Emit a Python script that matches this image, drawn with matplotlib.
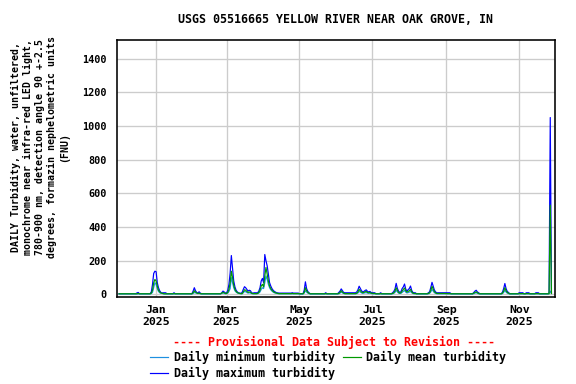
import pandas as pd
import numpy as np
import matplotlib
matplotlib.use("Agg")
import matplotlib.pyplot as plt
import matplotlib.dates as mdates

plt.rcParams['font.family'] = ['DejaVu Sans Mono']
plt.rcParams['font.weight'] = 'bold'

# Daily values (FNU), one list per month (Dec 2024 - Nov 2025)
mean_dec = [4, 4, 4, 4, 4, 4, 4, 4, 4, 4, 4, 4, 4, 4, 4, 4, 6, 4, 4, 4, 4, 4, 4, 4, 4, 4, 4, 8, 25, 70, 89]
max_dec = [5, 5, 5, 5, 5, 5, 5, 5, 5, 5, 5, 5, 5, 5, 5, 9, 12, 5, 5, 5, 5, 5, 5, 5, 5, 5, 5, 15, 60, 125, 138]
min_dec = [3, 3, 3, 3, 3, 3, 3, 3, 3, 3, 3, 3, 3, 3, 3, 3, 4, 3, 3, 3, 3, 3, 3, 3, 3, 3, 3, 5, 12, 40, 70]

mean_jan = [80, 50, 25, 15, 9, 7, 5, 4, 4, 4, 4, 4, 4, 4, 4, 5, 4, 4, 4, 4, 4, 4, 4, 4, 4, 4, 4, 4, 4, 4, 4]
max_jan = [135, 70, 40, 22, 12, 9, 10, 10, 10, 5, 5, 5, 5, 5, 5, 10, 5, 5, 5, 5, 5, 5, 5, 5, 5, 5, 5, 5, 5, 5, 5]
min_jan = [60, 35, 18, 10, 7, 6, 4, 3, 3, 3, 3, 3, 3, 3, 3, 4, 3, 3, 3, 3, 3, 3, 3, 3, 3, 3, 3, 3, 3, 3, 3]

mean_feb = [10, 22, 14, 9, 6, 8, 5, 4, 4, 4, 4, 4, 4, 4, 4, 4, 4, 4, 4, 4, 4, 4, 4, 4, 8, 12, 10, 6]
max_feb = [20, 40, 22, 12, 9, 16, 8, 5, 5, 5, 5, 5, 5, 5, 5, 5, 5, 5, 5, 5, 5, 5, 5, 5, 10, 20, 15, 9]
min_feb = [6, 12, 9, 7, 5, 6, 4, 3, 3, 3, 3, 3, 3, 3, 3, 3, 3, 3, 3, 3, 3, 3, 3, 3, 6, 9, 7, 4]

mean_mar = [6, 12, 30, 70, 138, 100, 55, 30, 18, 11, 8, 6, 5, 5, 15, 28, 25, 18, 12, 15, 13, 7, 5, 5, 5, 5, 6, 12, 25, 50, 60]
max_mar = [9, 25, 60, 127, 231, 154, 80, 45, 25, 15, 10, 8, 7, 12, 30, 46, 40, 30, 20, 25, 22, 10, 8, 10, 10, 10, 10, 20, 40, 80, 95]
min_mar = [5, 8, 18, 35, 100, 70, 40, 22, 14, 9, 7, 5, 4, 4, 10, 18, 16, 12, 8, 10, 9, 5, 4, 4, 4, 4, 5, 8, 15, 30, 40]

mean_apr = [45, 110, 160, 120, 80, 50, 35, 25, 18, 13, 10, 8, 6, 5, 5, 5, 5, 5, 5, 5, 5, 5, 5, 5, 6, 5, 5, 5, 5, 5]
max_apr = [70, 237, 200, 170, 120, 70, 50, 35, 25, 18, 14, 10, 9, 8, 8, 8, 8, 8, 8, 8, 8, 8, 8, 8, 10, 8, 8, 8, 8, 8]
min_apr = [35, 70, 110, 90, 60, 40, 28, 20, 14, 10, 8, 6, 5, 4, 4, 4, 4, 4, 4, 4, 4, 4, 4, 4, 4, 4, 4, 4, 4, 4]

mean_may = [4, 4, 4, 4, 12, 40, 22, 12, 7, 4, 4, 4, 4, 4, 4, 4, 4, 4, 4, 4, 4, 4, 5, 4, 4, 4, 4, 4, 4, 4, 4]
max_may = [5, 5, 5, 5, 25, 75, 35, 18, 10, 5, 5, 5, 5, 5, 5, 5, 5, 5, 5, 5, 5, 5, 10, 5, 5, 5, 5, 5, 5, 5, 5]
min_may = [3, 3, 3, 3, 8, 22, 14, 8, 5, 3, 3, 3, 3, 3, 3, 3, 3, 3, 3, 3, 3, 3, 4, 3, 3, 3, 3, 3, 3, 3, 3]

mean_jun = [4, 4, 6, 12, 22, 14, 8, 5, 5, 5, 5, 5, 5, 5, 5, 5, 5, 8, 15, 30, 22, 14, 10, 12, 16, 18, 12, 10, 12, 8]
max_jun = [5, 5, 12, 20, 33, 22, 12, 10, 10, 10, 10, 10, 10, 10, 10, 10, 10, 15, 28, 49, 35, 22, 15, 18, 24, 27, 18, 15, 18, 12]
min_jun = [3, 3, 4, 8, 14, 9, 6, 4, 4, 4, 4, 4, 4, 4, 4, 4, 4, 5, 9, 18, 14, 9, 7, 8, 10, 11, 8, 7, 8, 6]

mean_jul = [6, 6, 6, 4, 4, 4, 4, 5, 4, 4, 4, 4, 4, 4, 4, 4, 4, 6, 10, 20, 40, 24, 12, 8, 10, 20, 30, 38, 22, 14, 18]
max_jul = [10, 10, 10, 5, 5, 5, 5, 10, 5, 5, 5, 5, 5, 5, 5, 5, 5, 10, 18, 32, 66, 36, 20, 12, 16, 35, 45, 62, 32, 20, 28]
min_jul = [4, 4, 4, 3, 3, 3, 3, 4, 3, 3, 3, 3, 3, 3, 3, 3, 3, 4, 7, 12, 25, 15, 8, 6, 7, 12, 18, 24, 14, 9, 11]

mean_aug = [22, 30, 16, 8, 6, 6, 4, 4, 4, 4, 4, 4, 4, 4, 4, 4, 6, 10, 25, 48, 32, 16, 10, 6, 6, 6, 6, 6, 6, 6, 6]
max_aug = [35, 50, 24, 12, 10, 10, 5, 5, 5, 5, 5, 5, 5, 5, 5, 5, 10, 16, 42, 72, 50, 26, 15, 10, 10, 10, 10, 10, 10, 10, 10]
min_aug = [14, 18, 10, 6, 4, 4, 3, 3, 3, 3, 3, 3, 3, 3, 3, 3, 4, 7, 15, 30, 20, 10, 7, 4, 4, 4, 4, 4, 4, 4, 4]

mean_sep = [5, 5, 5, 5, 4, 4, 4, 4, 4, 4, 4, 4, 4, 4, 4, 4, 4, 4, 4, 4, 4, 4, 4, 8, 12, 15, 10, 6, 4, 4]
max_sep = [10, 10, 10, 10, 5, 5, 5, 5, 5, 5, 5, 5, 5, 5, 5, 5, 5, 5, 5, 5, 5, 5, 5, 12, 20, 25, 15, 10, 5, 5]
min_sep = [4, 4, 4, 4, 3, 3, 3, 3, 3, 3, 3, 3, 3, 3, 3, 3, 3, 3, 3, 3, 3, 3, 3, 5, 8, 10, 7, 4, 3, 3]

mean_oct = [4, 4, 4, 4, 4, 4, 4, 4, 4, 4, 4, 4, 4, 4, 4, 4, 4, 8, 20, 40, 22, 12, 8, 4, 4, 4, 4, 4, 4, 4, 4]
max_oct = [5, 5, 5, 5, 5, 5, 5, 5, 5, 5, 5, 5, 5, 5, 5, 5, 5, 14, 35, 65, 35, 18, 12, 5, 5, 5, 5, 5, 5, 5, 5]
min_oct = [3, 3, 3, 3, 3, 3, 3, 3, 3, 3, 3, 3, 3, 3, 3, 3, 3, 5, 12, 25, 14, 8, 5, 3, 3, 3, 3, 3, 3, 3, 3]

mean_nov = [5, 5, 5, 5, 4, 4, 5, 5, 5, 4, 4, 4, 4, 4, 5, 5, 5, 4, 4, 4, 4, 4, 4, 4, 4, 4, 530, 6]
max_nov = [10, 10, 10, 10, 5, 5, 10, 10, 10, 5, 5, 5, 5, 5, 10, 10, 10, 5, 5, 5, 5, 5, 5, 5, 5, 8, 1050, 12]
min_nov = [4, 4, 4, 4, 3, 3, 4, 4, 4, 3, 3, 3, 3, 3, 4, 4, 4, 3, 3, 3, 3, 3, 3, 3, 3, 4, 20, 5]

daily_mean = (mean_dec + mean_jan + mean_feb + mean_mar + mean_apr + mean_may
              + mean_jun + mean_jul + mean_aug + mean_sep + mean_oct + mean_nov)
daily_max = (max_dec + max_jan + max_feb + max_mar + max_apr + max_may
             + max_jun + max_jul + max_aug + max_sep + max_oct + max_nov)
daily_min = (min_dec + min_jan + min_feb + min_mar + min_apr + min_may
             + min_jun + min_jul + min_aug + min_sep + min_oct + min_nov)
dates = pd.date_range("2024-12-01", periods=len(daily_mean), freq="D")

fig = plt.figure(figsize=(6, 4), dpi=96)
ax = fig.add_axes([0.2036, 0.2266, 0.7600, 0.6692])

l_max, = ax.plot(dates, daily_max, color="#0000ff", lw=0.9, label="Daily maximum turbidity")
l_min, = ax.plot(dates, daily_min, color="#1e90e0", lw=0.9, label="Daily minimum turbidity")
l_mean, = ax.plot(dates, daily_mean, color="#009900", lw=0.9, label="Daily mean turbidity")

ax.set_xlim(pd.Timestamp("2024-11-29 12:00"), pd.Timestamp("2025-12-01"))
ax.set_ylim(-15, 1510)
ax.set_yticks(range(0, 1401, 200))
ax.xaxis.set_major_locator(mdates.MonthLocator(bymonth=[1, 3, 5, 7, 9, 11]))
ax.xaxis.set_major_formatter(mdates.DateFormatter("%b\n%Y"))
ax.grid(True, color="#cccccc", lw=1)
ax.set_axisbelow(True)
ax.tick_params(length=0, labelsize=8.6, pad=6)
ax.tick_params(axis="y", labelsize=7.6, pad=8)
for s in ax.spines.values():
    s.set_linewidth(1.2)

fig.text(0.583, 0.950, "USGS 05516665 YELLOW RIVER NEAR OAK GROVE, IN",
         ha="center", va="center", fontsize=8.7)
fig.text(0.069, 0.617,
         "DAILY Turbidity, water, unfiltered,\nmonochrome near infra-red LED light,\n"
         "780-900 nm, detection angle 90 +-2.5\ndegrees, formazin nephelometric units\n(FNU)",
         rotation=90, ha="center", va="center", multialignment="center",
         fontsize=7.4, linespacing=1.25)
fig.text(0.580, 0.1076, "---- Provisional Data Subject to Revision ----",
         color="red", ha="center", va="center", fontsize=8.7)

fig.legend(handles=[l_min, l_max, l_mean], ncol=2, loc="upper left",
           bbox_to_anchor=(0.260, 0.086), frameon=False, fontsize=8.7,
           handlelength=1.6, handletextpad=0.45, columnspacing=0.7,
           labelspacing=0.25, borderpad=0, borderaxespad=0)

fig.savefig("out.png", dpi=96)
